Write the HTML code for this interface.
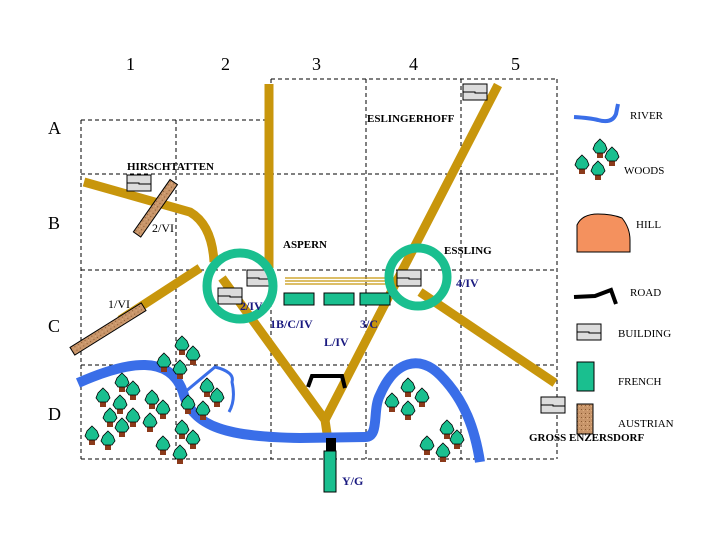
<!DOCTYPE html>
<html><head><style>
body{margin:0;background:#fff;}
svg{display:block;}
text{font-family:"Liberation Serif",serif;}
</style></head><body>
<svg width="720" height="540" viewBox="0 0 720 540" xmlns="http://www.w3.org/2000/svg">
<defs>
<g id="t"><rect x="-3" y="3" width="6" height="7" fill="#8b3a1a"/><path d="M0,-9 L5,-4 L7,1 L4,5 L-4,5 L-7,1 L-5,-4 Z" fill="#1abf8f" stroke="#000" stroke-width="0.8"/></g>
<g id="b"><rect x="0" y="0" width="24" height="16" fill="#dcdcdc" stroke="#000" stroke-width="1"/><path d="M0,8 H12 V9 H24" fill="none" stroke="#000" stroke-width="1"/></g>
<pattern id="au" width="4" height="4" patternUnits="userSpaceOnUse"><rect width="4" height="4" fill="#c8956a"/><rect x="1" y="1" width="1" height="1" fill="#8a5a30"/><rect x="3" y="2" width="1" height="1" fill="#e0b080"/></pattern>
</defs>
<g stroke="#000" stroke-width="1" stroke-dasharray="4,3" fill="none">
<path d="M81,120 H271 M271,79 H557 M81,174 H557 M81,270 H557 M81,365 H557 M81,459 H557"/>
<path d="M81,120 V459 M176,120 V459 M271,79 V459 M366,79 V459 M461,79 V459 M557,79 V459"/>
</g>
<g font-size="18" fill="#000">
<text x="126" y="70">1</text><text x="221" y="70">2</text><text x="312" y="70">3</text><text x="409" y="70">4</text><text x="511" y="70">5</text>
<text x="48" y="134">A</text><text x="48" y="229">B</text><text x="48" y="332">C</text><text x="48" y="420">D</text>
</g>
<g stroke="#c8960c" stroke-width="9" fill="none">
<path d="M269,84 V268"/>
<path d="M84,182 L190,212 Q212,225 214,262"/>
<path d="M200,268 L120,320"/>
<path d="M222,278 L325,420 L328,440"/>
<path d="M498,85 L325,420"/>
<path d="M420,292 L555,383"/>
</g>
<g stroke="#c8960c" stroke-width="1.2"><path d="M285,278 H390 M285,281 H390 M285,284 H390"/></g>
<path d="M78,383 C130,360 170,355 183,392 C192,428 230,437 300,438 L365,437 C380,437 372,410 380,395 C395,360 420,355 440,375 C465,400 475,430 480,462" stroke="#3a6ee8" stroke-width="10" fill="none"/>
<path d="M185,392 L215,367 Q235,372 232,382 Q236,400 229,412" stroke="#3a6ee8" stroke-width="3" fill="none"/>
<rect x="326" y="438" width="10" height="14" fill="#000"/>
<rect x="324" y="451" width="12" height="41" fill="#1abf8f" stroke="#000" stroke-width="1"/>
<path d="M308,387 L312,376 H342 L345,388" stroke="#000" stroke-width="4" fill="none"/>
<g fill="#1abf8f" stroke="#000" stroke-width="1">
<rect x="284" y="293" width="30" height="12"/><rect x="324" y="293" width="30" height="12"/><rect x="360" y="293" width="30" height="12"/>
</g>
<use href="#b" x="247" y="270"/><use href="#b" x="218" y="288"/><use href="#b" x="397" y="270"/><use href="#b" x="463" y="84"/><use href="#b" x="127" y="175"/><use href="#b" x="541" y="397"/>
<circle cx="240" cy="286" r="33" fill="none" stroke="#1abf8f" stroke-width="9"/>
<circle cx="418" cy="277" r="29" fill="none" stroke="#1abf8f" stroke-width="9"/>
<rect x="-4" y="-32" width="9" height="64" fill="url(#au)" stroke="#000" stroke-width="1" transform="translate(155,208) rotate(35)"/>
<rect x="-4.5" y="-42" width="9" height="84" fill="url(#au)" stroke="#000" stroke-width="1" transform="translate(108,329) rotate(58)"/>
<g>
<use href="#t" x="182" y="345"/><use href="#t" x="193" y="355"/><use href="#t" x="164" y="362"/><use href="#t" x="180" y="369"/>
<use href="#t" x="122" y="382"/><use href="#t" x="133" y="390"/><use href="#t" x="103" y="397"/><use href="#t" x="120" y="404"/>
<use href="#t" x="152" y="399"/><use href="#t" x="163" y="409"/><use href="#t" x="110" y="417"/><use href="#t" x="133" y="417"/>
<use href="#t" x="122" y="427"/><use href="#t" x="150" y="422"/><use href="#t" x="92" y="435"/><use href="#t" x="108" y="440"/>
<use href="#t" x="163" y="445"/><use href="#t" x="180" y="454"/><use href="#t" x="182" y="429"/><use href="#t" x="193" y="439"/>
<use href="#t" x="207" y="387"/><use href="#t" x="217" y="397"/><use href="#t" x="188" y="404"/><use href="#t" x="203" y="410"/>
<use href="#t" x="408" y="387"/><use href="#t" x="422" y="397"/><use href="#t" x="392" y="402"/><use href="#t" x="408" y="410"/>
<use href="#t" x="447" y="429"/><use href="#t" x="457" y="439"/><use href="#t" x="427" y="445"/><use href="#t" x="443" y="452"/>
<use href="#t" x="600" y="148"/><use href="#t" x="612" y="156"/><use href="#t" x="582" y="164"/><use href="#t" x="598" y="170"/>
</g>
<g font-size="11" font-weight="bold" fill="#000">
<text x="127" y="170">HIRSCHTATTEN</text><text x="367" y="122">ESLINGERHOFF</text><text x="283" y="248">ASPERN</text><text x="444" y="254">ESSLING</text><text x="529" y="441">GROSS ENZERSDORF</text>
</g>
<g font-size="12" font-weight="bold" fill="#1a1a80">
<text x="240" y="310">2/IV</text><text x="270" y="328">1B/C/IV</text><text x="324" y="346">L/IV</text><text x="360" y="328">3/C</text><text x="456" y="287">4/IV</text><text x="342" y="485">Y/G</text>
</g>
<g font-size="12" fill="#000"><text x="152" y="232">2/VI</text><text x="108" y="308">1/VI</text></g>
<path d="M574,117 Q590,118 598,120 Q612,124 616,114 L618,104" stroke="#3a6ee8" stroke-width="4" fill="none"/>
<path d="M577,252 L577,225 Q582,214 598,214 Q612,214 622,218 Q630,228 630,240 L630,252 Z" fill="#f4915e" stroke="#000" stroke-width="1"/>
<path d="M574,297 L595,296 L611,290 L616,304" stroke="#000" stroke-width="4" fill="none"/>
<use href="#b" x="577" y="324"/>
<rect x="577" y="362" width="17" height="29" fill="#1abf8f" stroke="#000" stroke-width="1"/>
<rect x="577" y="404" width="16" height="30" fill="url(#au)" stroke="#000" stroke-width="1"/>
<g font-size="11" fill="#000">
<text x="630" y="119">RIVER</text><text x="624" y="174">WOODS</text><text x="636" y="228">HILL</text><text x="630" y="296">ROAD</text><text x="618" y="337">BUILDING</text><text x="618" y="385">FRENCH</text><text x="618" y="427">AUSTRIAN</text>
</g>
</svg>
</body></html>
